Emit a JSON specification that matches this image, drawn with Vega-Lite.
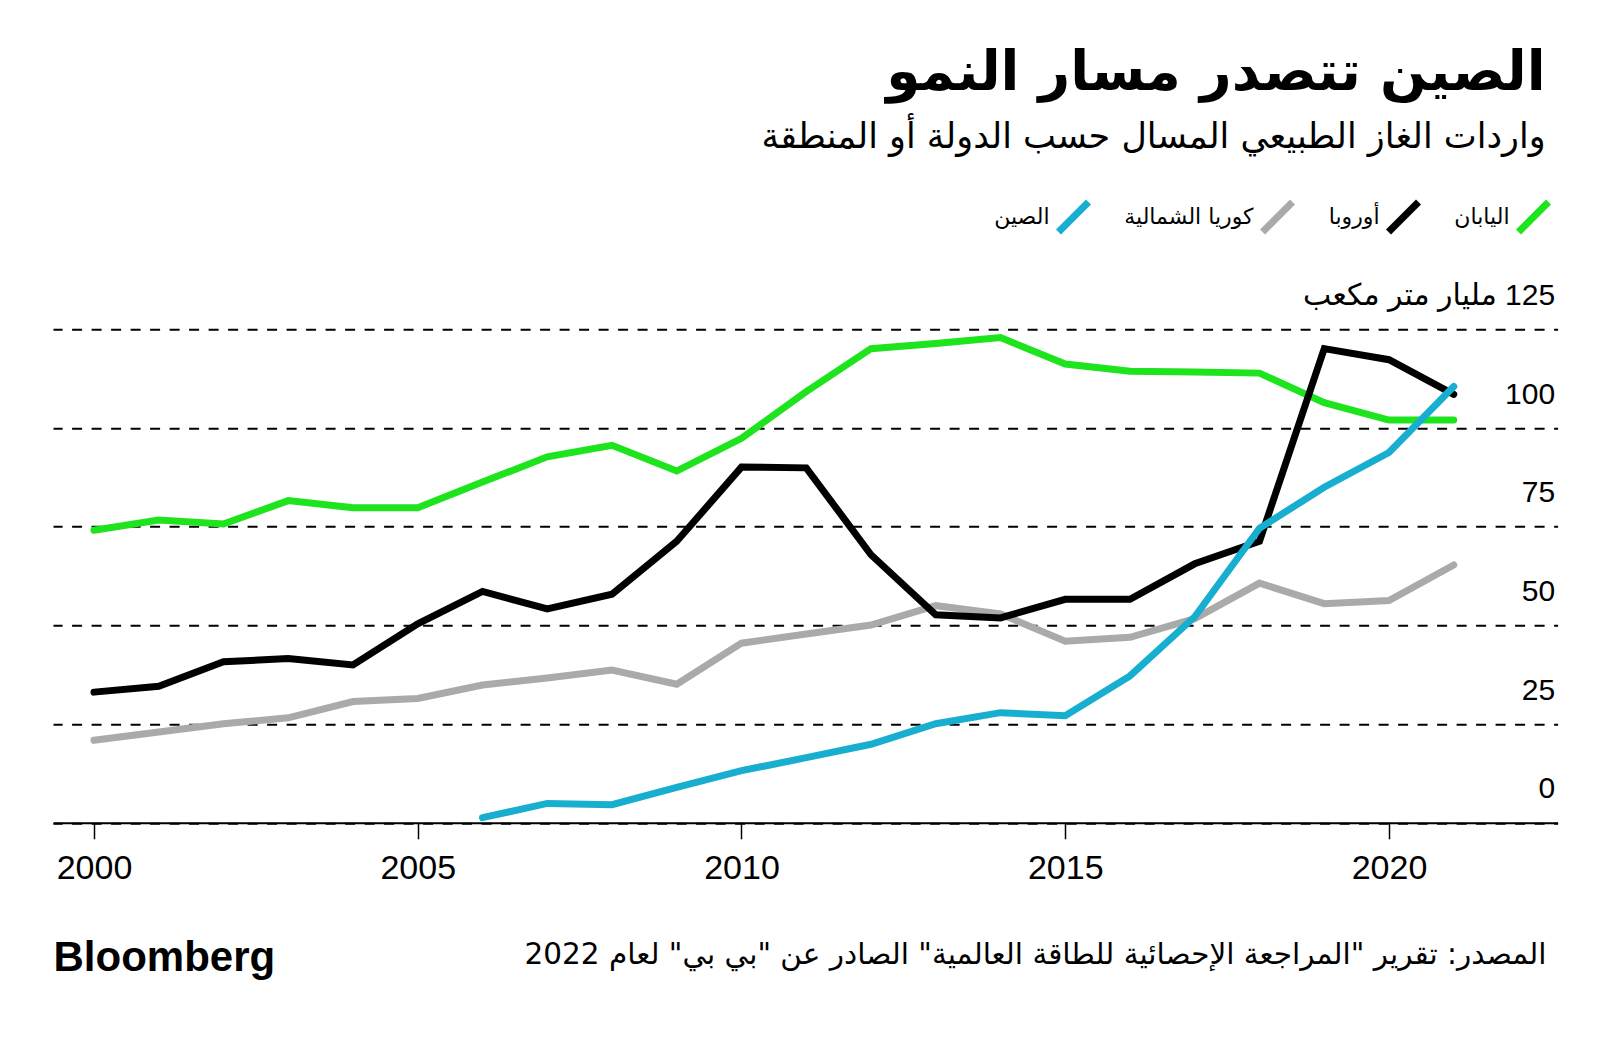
{
  "$schema": "https://vega.github.io/schema/vega-lite/v6.json",
  "autosize": {"type": "none"},
  "width": 1504.6,
  "height": 493.5,
  "padding": {"left": 53, "top": 329.3, "right": 42.4, "bottom": 215.2},
  "background": "white",
  "title": {
    "text": "الصين تتصدر مسار النمو",
    "subtitle": "واردات الغاز الطبيعي المسال حسب الدولة أو المنطقة",
    "anchor": "end",
    "frame": "group",
    "orient": "top",
    "dx": -12,
    "offset": 42,
    "font": "DejaVu Sans",
    "fontSize": 55,
    "fontWeight": "bold",
    "color": "#000000",
    "subtitleFont": "DejaVu Sans",
    "subtitleFontSize": 35,
    "subtitleColor": "#000000",
    "subtitlePadding": 18
  },
  "data": {
    "values": [
      {"year": 2000, "region": "اليابان", "bcm": 74.1},
      {"year": 2001, "region": "اليابان", "bcm": 76.7},
      {"year": 2002, "region": "اليابان", "bcm": 75.7},
      {"year": 2003, "region": "اليابان", "bcm": 81.6},
      {"year": 2004, "region": "اليابان", "bcm": 79.8},
      {"year": 2005, "region": "اليابان", "bcm": 79.8},
      {"year": 2006, "region": "اليابان", "bcm": 86.3},
      {"year": 2007, "region": "اليابان", "bcm": 92.7},
      {"year": 2008, "region": "اليابان", "bcm": 95.6},
      {"year": 2009, "region": "اليابان", "bcm": 89.1},
      {"year": 2010, "region": "اليابان", "bcm": 97.4},
      {"year": 2011, "region": "اليابان", "bcm": 109.2},
      {"year": 2012, "region": "اليابان", "bcm": 120.1},
      {"year": 2013, "region": "اليابان", "bcm": 121.4},
      {"year": 2014, "region": "اليابان", "bcm": 122.9},
      {"year": 2015, "region": "اليابان", "bcm": 116.2},
      {"year": 2016, "region": "اليابان", "bcm": 114.4},
      {"year": 2017, "region": "اليابان", "bcm": 114.2},
      {"year": 2018, "region": "اليابان", "bcm": 113.9},
      {"year": 2019, "region": "اليابان", "bcm": 106.4},
      {"year": 2020, "region": "اليابان", "bcm": 102.0},
      {"year": 2021, "region": "اليابان", "bcm": 102.0},
      {"year": 2000, "region": "كوريا الشمالية", "bcm": 20.9},
      {"year": 2001, "region": "كوريا الشمالية", "bcm": 23.0},
      {"year": 2002, "region": "كوريا الشمالية", "bcm": 25.1},
      {"year": 2003, "region": "كوريا الشمالية", "bcm": 26.6},
      {"year": 2004, "region": "كوريا الشمالية", "bcm": 30.7},
      {"year": 2005, "region": "كوريا الشمالية", "bcm": 31.5},
      {"year": 2006, "region": "كوريا الشمالية", "bcm": 34.9},
      {"year": 2007, "region": "كوريا الشمالية", "bcm": 36.7},
      {"year": 2008, "region": "كوريا الشمالية", "bcm": 38.7},
      {"year": 2009, "region": "كوريا الشمالية", "bcm": 35.1},
      {"year": 2010, "region": "كوريا الشمالية", "bcm": 45.5},
      {"year": 2011, "region": "كوريا الشمالية", "bcm": 47.8},
      {"year": 2012, "region": "كوريا الشمالية", "bcm": 50.1},
      {"year": 2013, "region": "كوريا الشمالية", "bcm": 55.0},
      {"year": 2014, "region": "كوريا الشمالية", "bcm": 52.9},
      {"year": 2015, "region": "كوريا الشمالية", "bcm": 46.0},
      {"year": 2016, "region": "كوريا الشمالية", "bcm": 47.0},
      {"year": 2017, "region": "كوريا الشمالية", "bcm": 51.7},
      {"year": 2018, "region": "كوريا الشمالية", "bcm": 60.7},
      {"year": 2019, "region": "كوريا الشمالية", "bcm": 55.5},
      {"year": 2020, "region": "كوريا الشمالية", "bcm": 56.3},
      {"year": 2021, "region": "كوريا الشمالية", "bcm": 65.3},
      {"year": 2000, "region": "أوروبا", "bcm": 33.1},
      {"year": 2001, "region": "أوروبا", "bcm": 34.6},
      {"year": 2002, "region": "أوروبا", "bcm": 40.8},
      {"year": 2003, "region": "أوروبا", "bcm": 41.6},
      {"year": 2004, "region": "أوروبا", "bcm": 40.0},
      {"year": 2005, "region": "أوروبا", "bcm": 50.4},
      {"year": 2006, "region": "أوروبا", "bcm": 58.6},
      {"year": 2007, "region": "أوروبا", "bcm": 54.2},
      {"year": 2008, "region": "أوروبا", "bcm": 57.9},
      {"year": 2009, "region": "أوروبا", "bcm": 71.3},
      {"year": 2010, "region": "أوروبا", "bcm": 90.1},
      {"year": 2011, "region": "أوروبا", "bcm": 89.9},
      {"year": 2012, "region": "أوروبا", "bcm": 67.9},
      {"year": 2013, "region": "أوروبا", "bcm": 52.7},
      {"year": 2014, "region": "أوروبا", "bcm": 51.9},
      {"year": 2015, "region": "أوروبا", "bcm": 56.6},
      {"year": 2016, "region": "أوروبا", "bcm": 56.6},
      {"year": 2017, "region": "أوروبا", "bcm": 65.6},
      {"year": 2018, "region": "أوروبا", "bcm": 71.3},
      {"year": 2019, "region": "أوروبا", "bcm": 120.1},
      {"year": 2020, "region": "أوروبا", "bcm": 117.3},
      {"year": 2021, "region": "أوروبا", "bcm": 108.5},
      {"year": 2006, "region": "الصين", "bcm": 1.3},
      {"year": 2007, "region": "الصين", "bcm": 4.9},
      {"year": 2008, "region": "الصين", "bcm": 4.6},
      {"year": 2009, "region": "الصين", "bcm": 9.0},
      {"year": 2010, "region": "الصين", "bcm": 13.2},
      {"year": 2011, "region": "الصين", "bcm": 16.5},
      {"year": 2012, "region": "الصين", "bcm": 19.9},
      {"year": 2013, "region": "الصين", "bcm": 25.1},
      {"year": 2014, "region": "الصين", "bcm": 27.9},
      {"year": 2015, "region": "الصين", "bcm": 27.1},
      {"year": 2016, "region": "الصين", "bcm": 37.2},
      {"year": 2017, "region": "الصين", "bcm": 52.2},
      {"year": 2018, "region": "الصين", "bcm": 74.6},
      {"year": 2019, "region": "الصين", "bcm": 85.0},
      {"year": 2020, "region": "الصين", "bcm": 93.8},
      {"year": 2021, "region": "الصين", "bcm": 110.5}
    ]
  },
  "mark": {"type": "line", "strokeWidth": 7, "strokeCap": "round", "strokeJoin": "miter", "clip": false},
  "encoding": {
    "x": {
      "field": "year",
      "type": "quantitative",
      "scale": {"domain": [1999.367, 2022.604], "nice": false, "zero": false},
      "axis": {
        "values": [2000, 2005, 2010, 2015, 2020],
        "format": "d",
        "grid": false,
        "zindex": 1,
        "domain": true,
        "domainColor": "#000000",
        "domainWidth": 2,
        "ticks": true,
        "tickSize": 16,
        "tickWidth": 1.5,
        "tickColor": "#000000",
        "labelFont": "Liberation Sans",
        "labelFontSize": 34,
        "labelColor": "#000000",
        "labelBaseline": "middle",
        "labelPadding": 30,
        "labelFlush": false,
        "title": "المصدر: تقرير \"المراجعة الإحصائية للطاقة العالمية\" الصادر عن \"بي بي\" لعام 2022",
        "titleFont": "DejaVu Sans",
        "titleFontSize": 29.5,
        "titleFontWeight": "normal",
        "titleColor": "#000000",
        "titleAlign": "right",
        "titleBaseline": "middle",
        "titleLimit": 0,
        "titleX": 1493,
        "titleY": 132
      }
    },
    "y": {
      "field": "bcm",
      "type": "quantitative",
      "scale": {"domain": [0, 125], "nice": false},
      "axis": {
        "orient": "right",
        "values": [0, 25, 50, 75, 100, 125],
        "labelExpr": "datum.value == 125 ? 'مليار متر مكعب\u200e 125' : datum.label",
        "domain": false,
        "ticks": false,
        "grid": true,
        "gridColor": "#000000",
        "gridWidth": 2,
        "gridDash": [10, 9.5],
        "gridDashOffset": 6,
        "labelFont": "Liberation Sans, DejaVu Sans",
        "labelFontSize": 30,
        "labelColor": "#000000",
        "labelAlign": "right",
        "labelBaseline": "middle",
        "labelPadding": -3,
        "labelOffset": -34,
        "labelLimit": 0,
        "labelFlush": false,
        "labelOverlap": false,
        "title": "Bloomberg",
        "titleFont": "Liberation Sans",
        "titleFontSize": 42,
        "titleFontWeight": "bold",
        "titleColor": "#000000",
        "titleAngle": 0,
        "titleAlign": "left",
        "titleBaseline": "middle",
        "titleX": -1504.6,
        "titleY": 628
      }
    },
    "color": {
      "field": "region",
      "type": "nominal",
      "scale": {
        "domain": ["الصين", "كوريا الشمالية", "أوروبا", "اليابان"],
        "range": ["#17aecf", "#aaaaaa", "#000000", "#1ee41e"]
      },
      "legend": {
        "orient": "none",
        "legendX": 1002,
        "legendY": -131,
        "direction": "horizontal",
        "title": null,
        "padding": 0,
        "symbolType": "M-1,1L1,-1",
        "symbolSize": 900,
        "symbolStrokeWidth": 7,
        "labelFont": "DejaVu Sans",
        "labelFontSize": 22,
        "labelColor": "#000000",
        "labelAlign": "right",
        "labelOffset": -42.5,
        "labelLimit": 0,
        "columnPadding": 21
      }
    }
  },
  "config": {
    "view": {"stroke": null}
  }
}
